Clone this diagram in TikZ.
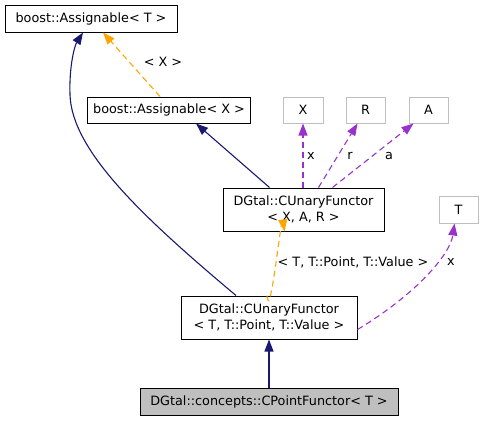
\documentclass[tikz,border=0pt]{standalone}
\usepackage{fontspec}
\setmainfont{DejaVu Sans}
\usetikzlibrary{arrows.meta}
\definecolor{navy}{RGB}{25,25,112}
\definecolor{orng}{RGB}{255,165,0}
\definecolor{purp}{RGB}{153,50,204}
\definecolor{lgray}{RGB}{191,191,191}
\tikzset{
  lbl/.style={font=\fontsize{12.8}{16}\selectfont, inner sep=0pt},
  cls/.style={draw=black, line width=1pt, fill=white, align=center, inner sep=0pt,
    font=\fontsize{12.8}{16}\selectfont},
  ext/.style={draw=lgray, line width=1pt, fill=white, align=center, inner sep=0pt,
    font=\fontsize{12.8}{16}\selectfont},
  tip/.style={-{Triangle[length=12pt,width=9pt]}},
  inh/.style={tip, draw=navy, line width=1.1pt, navy},
  tmpl/.style={tip, draw=orng, line width=1.1pt, orng, dash pattern=on 6pt off 4pt},
  usg/.style={tip, draw=purp, line width=1.1pt, purp, dash pattern=on 6pt off 4pt},
}
\begin{document}
\begin{tikzpicture}[x=1pt,y=-1pt]
\useasboundingbox (0,0) rectangle (484,421);
\node[cls, minimum width=172pt, minimum height=27pt] (assT) at (91,18.5) {boost::Assignable< T >};
\node[cls, minimum width=163pt, minimum height=26pt] (assX) at (169,110) {boost::Assignable< X >};
\node[ext, minimum width=40pt, minimum height=26pt] (X) at (303,110) {X};
\node[ext, minimum width=39pt, minimum height=26pt] (R) at (365.5,110) {R};
\node[ext, minimum width=39pt, minimum height=26pt] (A) at (428.5,110) {A};
\node[cls, minimum width=161pt, minimum height=43pt] (cuf1) at (303.5,209.5) {DGtal::CUnaryFunctor\\< X, A, R >};
\node[ext, minimum width=39pt, minimum height=27pt] (T) at (458.5,209.5) {T};
\node[cls, minimum width=176pt, minimum height=43pt] (cuf2) at (269,317.5) {DGtal::CUnaryFunctor\\< T, T::Point, T::Value >};
\node[cls, fill=lgray, minimum width=258pt, minimum height=27pt] (cpf) at (269,401.5) {DGtal::concepts::CPointFunctor< T >};

% template instantiation
\draw[tmpl] ([xshift=-9pt]assX.north) -- ([xshift=12pt]assT.south);
\node[lbl] (lx) at (163,62) {< X >};
\draw[tmpl] ([xshift=-2pt]cuf2.north) .. controls ([xshift=1pt,yshift=-30pt]cuf2.north) and ([xshift=-22pt,yshift=20pt]cuf1.south) .. ([xshift=-19pt]cuf1.south);
\node[lbl] (ltp) at (353,262) {< T, T::Point, T::Value >};

% inheritance
\draw[inh] ([xshift=-33pt]cuf2.north) .. controls (140,215) and (72,150) .. (70,95) .. controls (69,65) and (75,45) .. ([xshift=-8pt]assT.south);
\draw[inh] ([xshift=-34pt]cuf1.north) -- ([xshift=27pt]assX.south);
\draw[inh] (cpf.north) -- (cuf2.south);

% usage
\draw[usg] ([xshift=-0.5pt]cuf1.north) -- (X.south);
\node[lbl] (lxx) at (311,156) {x};
\draw[usg] ([xshift=15pt]cuf1.north) -- ([xshift=-8pt]R.south);
\node[lbl] (lr) at (350,156) {r};
\draw[usg] ([xshift=29pt]cuf1.north) -- ([xshift=-15pt]A.south);
\node[lbl] (la) at (389,156) {a};
\draw[usg] ([yshift=-12pt]cuf2.east) .. controls (415,295) and (450,255) .. ([xshift=-4pt]T.south);
\node[lbl] (lt) at (451,262) {x};
\end{tikzpicture}
\end{document}
